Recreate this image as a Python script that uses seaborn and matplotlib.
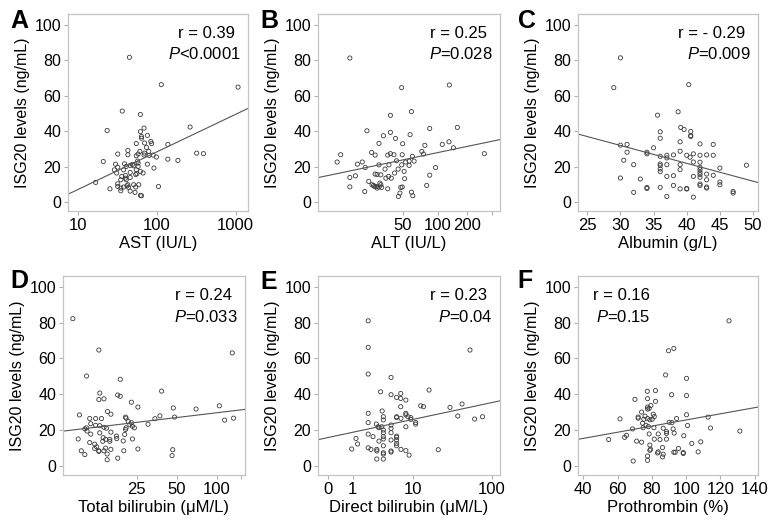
import numpy as np
import pandas as pd
import seaborn as sns
import matplotlib
matplotlib.use('Agg')
import matplotlib.pyplot as plt

# ---- data (ISG20 ng/mL vs liver markers) ----
ast = [45, 114, 1070, 36.5, 62, 23.5, 69, 62, 76, 64, 64, 70, 84, 86, 55, 264, 138, 43, 74, 61,
       32, 43, 58, 70, 79, 55, 69, 80, 90, 99, 320, 390, 138, 185, 21, 30, 39, 41, 51, 58,
       58, 76, 46, 49, 57, 92, 32, 29, 38, 55, 62, 46, 31, 67, 36, 40, 54, 56, 40, 35,
       41, 46, 16.8, 32, 43, 51, 59, 32, 38, 44, 42, 54, 105, 25.5, 35, 35, 46, 53, 62, 64]
isg_a = [81.6, 66.2, 64.8, 51.3, 49.4, 40.4, 41.7, 39.7, 37.6, 37, 36, 33.3, 34.2, 33, 33, 42.3, 32.5, 29.1, 30.8, 28.6,
         27.1, 26.7, 27.1, 27.6, 28.6, 26.1, 26.5, 26.3, 26.5, 25.4, 27.6, 27.3, 24.2, 23.5, 22.9, 21.4, 21.6, 20.1, 20.5, 22,
         20.1, 21.4, 20.7, 21.2, 23.1, 19.2, 19.7, 18.2, 18.2, 18.2, 17.3, 16.7, 16.4, 16.4, 14.5, 15, 15.6, 16, 13.5, 12.6,
         12.6, 13.9, 11.1, 10.3, 9.8, 9.8, 9.8, 8.8, 8.5, 8.3, 9.2, 8.5, 8.8, 7.5, 7.9, 6.4, 6.2, 5.5, 3.8, 3.6]

alt = [21, 48.8, 58.5, 129, 40, 27.2, 40, 35.5, 43.7, 57, 84, 156, 128, 110, 49.7, 33, 76, 142, 29.3, 31,
       40, 42.5, 38.2, 49.3, 71.5, 74, 59.5, 18.4, 318, 17.5, 25.3, 23.5, 26.5, 33, 39, 48.8, 56, 61.5, 44.5, 52.5,
       95, 56, 36.5, 31, 32, 34, 38.8, 37, 45.8, 51, 43, 84, 21, 22.8, 40.6, 51.5, 28, 33.5, 34, 29.5,
       30.7, 33, 21, 32, 34.5, 38.2, 26.3, 48, 49.3, 79, 47.3, 46, 58.5, 60, 30.2, 31.6]
isg_b = [81.2, 64.5, 51, 66, 48.9, 40.2, 39.3, 37.4, 35.9, 38, 41.5, 42.1, 34, 32.5, 32.9, 33.1, 32, 30.6, 28, 26.5,
         27.3, 26.7, 26.5, 26.7, 28.6, 27.1, 25.8, 26.7, 27.3, 22.6, 22.6, 21.4, 19.5, 21, 21, 21, 23.1, 23.1, 23.3, 22.6,
         19.5, 20.7, 18.6, 15.8, 15.6, 15.4, 14.5, 13.5, 18.6, 17.3, 16.4, 15.2, 13.9, 14.8, 13.5, 13.2, 11.7, 10.7, 9.8, 9.8,
         8.8, 8.5, 8.6, 7.9, 8.3, 7.5, 6, 8.3, 8.5, 9.4, 5.1, 3.2, 5.6, 3.6, 9.4, 8.8]

albumin = [30, 29, 40.3, 35.6, 38.7, 36, 36, 39.1, 39.6, 40.6, 40.6, 40.6, 30, 31, 31, 30.5, 30, 32, 32, 33,
           34, 34, 35, 34, 34, 36, 36, 36, 36, 36, 36, 37, 37, 37, 37, 37, 38, 38, 38, 39,
           39, 39, 39, 39, 40, 40, 40, 40.5, 41, 41, 41, 41, 42, 42, 42, 42, 42, 42, 42, 42,
           42, 42, 43, 43, 43, 43, 43, 44, 44, 44, 45, 45, 45, 47, 47, 49]
isg_c = [81.3, 64.5, 66.2, 49, 50.9, 39.6, 36, 42.1, 40.9, 39.8, 37.5, 37, 32.1, 32.5, 28.1, 23.6, 13.6, 21.1, 5.5, 13,
         28.1, 27.2, 30.6, 8.3, 7.7, 25.8, 21.5, 20.6, 18.7, 17.2, 8.3, 3.2, 24.9, 26.4, 21.1, 14.5, 26.6, 14.9, 9.4, 28.7,
         34, 21.1, 18.3, 7.5, 26.4, 7.4, 7.7, 25.3, 22.6, 27.2, 14.5, 2.8, 32.8, 26.4, 22.5, 19.6, 18.3, 16.8, 15.5, 14,
         10.2, 9.4, 26.6, 15.8, 12.6, 8.5, 7.9, 32.5, 26.4, 15.1, 19.2, 11.3, 9.8, 6, 5.1, 20.8]

tbil = [8.3, 13, 10.5, 13.2, 13, 14.2, 18.8, 18, 18.8, 22.8, 25.5, 38.4, 47, 69.6, 104, 130, 114, 133, 48, 37.3,
        34.2, 30.4, 9.3, 11.1, 12.3, 13.6, 11.3, 12.3, 13.2, 14.2, 14.8, 15.1, 16, 10.5, 10.6, 10.2, 11.3, 9.1, 11.1, 12.1,
        12.5, 12.1, 13, 13, 14.2, 14.6, 13.9, 14.6, 15.7, 15.7, 16, 14, 15, 16, 15, 9.6, 10.2, 17.7, 19.8, 20.3,
        20.6, 20.8, 20.8, 20.6, 21.6, 22.8, 23.2, 24, 22.2, 17.6, 18, 20, 25.5, 23.2, 46.5, 46, 13.2]
isg_d = [82.2, 64.7, 50.2, 40.7, 37.1, 37.5, 48.4, 39.6, 38.9, 35.6, 32.9, 41.8, 32.4, 31.8, 33.6, 63.1, 25.6, 26.7, 27.3, 28,
         26.4, 23.3, 28.5, 26.5, 26.5, 26.5, 23.6, 22.7, 22.5, 21.6, 21.1, 30.4, 28.9, 21.3, 19.5, 20.7, 17.8, 15.1, 13.1, 12.2,
         10.7, 9.8, 8.5, 8.2, 8.5, 10, 13.8, 14.9, 14.9, 13.8, 18.9, 15.8, 6.7, 9.3, 3.5, 8.5, 6.4, 15.3, 14, 17.6,
         20.4, 21.3, 26.7, 27.3, 24.9, 24.2, 22.2, 21.3, 23.1, 16.7, 4.4, 8.5, 9.5, 15.1, 9.1, 5.8, 18.5]

dbil = [2.1, 2.1, 2.1, 2.1, 2.1, 2.1, 2.1, 0.95, 1.2, 1.3, 2.35, 2.95, 2.95, 2.95, 2.9, 3.1, 3.2, 3.4, 2.55, 3.2,
        3.55, 3.75, 3.75, 3.75, 3.75, 3.75, 3.75, 3.75, 3.75, 3.6, 3.75, 3.75, 4.9, 4.9, 4.9, 4.9, 4.9, 4.9, 4.9, 4.9,
        5.9, 5.9, 5.9, 5.9, 5.9, 5.9, 5.9, 5.9, 6.75, 6.75, 6.75, 6.8, 6.8, 7.95, 7.95, 7.95, 7.95, 7.95, 8.5, 8.8,
        9.3, 9.3, 10.8, 10.8, 12.6, 13.7, 16.2, 21.3, 30, 37.6, 42.5, 53.4, 61, 76.5]
isg_e = [81, 66.2, 51.3, 29.4, 24.2, 17.8, 10.2, 9.5, 15.4, 12.3, 9.3, 9.3, 8.4, 3.9, 23.4, 21.9, 21.4, 41.4, 16.4, 13.9,
         21.9, 20.1, 18.6, 16.4, 15.1, 11.3, 7.4, 6.7, 3.9, 30.7, 27.5, 25.7, 49.4, 39.8, 22.9, 21, 18.6, 14.5, 8.4, 7.8,
         38.3, 27.5, 27, 16.7, 16, 14.5, 12.6, 11.3, 40.5, 37.7, 33.1, 26.6, 9.3, 36.8, 29.4, 28.6, 21.9, 8.6, 27.5, 6.1,
         27, 26, 24.3, 23.4, 33.6, 33.1, 42.4, 9.1, 32.7, 27.9, 34.6, 64.7, 26.2, 27.5]

pt = [125, 92.8, 89.7, 88, 100.2, 77.3, 82.1, 91.5, 100.2, 70.1, 77.5, 82.1, 79.4, 77.5, 78.4, 77.5, 74, 80.8, 76, 72,
      72, 61.4, 77.5, 78.8, 80.2, 75.3, 81.4, 90.1, 91.7, 94.4, 100.2, 112.8, 100.8, 114.2, 131.3, 74.6, 76.5, 74.9, 68.7, 77.9,
      81.2, 86.6, 92.4, 93, 88.5, 88.5, 83.7, 78.4, 65.2, 64.1, 54.8, 71.1, 74, 81.4, 84.7, 88.5, 98.6, 103.3, 108.5, 78.8,
      79.2, 78.8, 83.7, 83.3, 86.2, 86.6, 86.2, 92.8, 93.6, 95.5, 98.3, 98.3, 107, 77.5, 77.5, 69.1]
isg_f = [81, 65.6, 64.3, 50.8, 48.9, 41.7, 42.1, 39.8, 39.3, 37.2, 37.6, 36.1, 33.8, 32.9, 32.1, 31.8, 30.1, 28.9, 27.8, 27.3,
         26.7, 26.3, 26.5, 25.8, 26.1, 26.1, 27.6, 24.4, 24.2, 26.5, 28.6, 27.3, 22.6, 21.2, 19.5, 23.9, 22.7, 21.4, 20.7, 22,
         21.4, 21.1, 20.7, 18.4, 18.2, 19.2, 17.9, 17.9, 17.1, 16, 14.8, 13.9, 13.3, 15, 14.8, 15, 16.9, 12.6, 13.5, 11.7,
         9.4, 8.8, 7.9, 7.3, 10.3, 6.6, 5.1, 7.7, 7.7, 9.8, 7.5, 7, 7.9, 5.6, 3.2, 2.8]

panels = ['A', 'B', 'C', 'D', 'E', 'F']
xlabels = ['AST (IU/L)', 'ALT (IU/L)', 'Albumin (g/L)',
           'Total bilirubin (\u03bcM/L)', 'Direct bilirubin (\u03bcM/L)', 'Prothrombin (%)']
r_text = ['r = 0.39', 'r = 0.25', 'r = - 0.29', 'r = 0.24', 'r = 0.23', 'r = 0.16']
p_text = ['<0.0001', '=0.028', '=0.009', '=0.033', '=0.04', '=0.15']

# ---- style ----
sns.set_style('white')
plt.rcParams['font.family'] = ['Liberation Sans', 'DejaVu Sans']
plt.rcParams['mathtext.fontset'] = 'custom'
plt.rcParams['mathtext.it'] = 'Liberation Sans:italic'
plt.rcParams['mathtext.rm'] = 'Liberation Sans'
plt.rcParams['text.color'] = 'black'
plt.rcParams['axes.labelcolor'] = 'black'

W, H = 771, 525
fig = plt.figure(figsize=(W / 100, H / 100), dpi=100)


def box(l, r, t, b):
    return [l / W, 1 - b / H, (r - l) / W, (b - t) / H]


pos = [box(68, 248, 14, 211), box(318, 500, 14, 211), box(578, 758, 14, 211),
       box(63, 245, 276, 475), box(318, 500, 276, 475), box(578, 758, 276, 475)]

xs = [ast, alt, albumin, tbil, dbil, pt]
ys = [isg_a, isg_b, isg_c, isg_d, isg_e, isg_f]


def pw_fwd(x):
    return -np.power(np.maximum(x, 1e-6), -0.25)


def pw_inv(t):
    return np.power(np.maximum(-t, 1e-6), -4.0)


def lp_fwd(x):
    return np.log10(np.maximum(x, -0.999) + 1)


def lp_inv(t):
    return 10 ** t - 1


scales = [('log', np.log10), (('function', (pw_fwd, pw_inv)), pw_fwd), ('linear', lambda v: v),
          ('log', np.log10), (('function', (lp_fwd, lp_inv)), lp_fwd), ('linear', lambda v: v)]
xlims = [(7.5, 1430), (13.5, 515), (23.6, 50.75), (7, 162), (-0.245, 125.7), (36.9, 141.9)]
xticks = [[10, 100, 1000], [50, 100, 200, 400], list(range(25, 51, 5)),
          [25, 50, 100, 150], [0, 1, 10, 100], list(range(40, 141, 20))]
xticklabels = [['10', '100', '1000'], ['50', '100', '200', ''], [str(v) for v in range(25, 51, 5)],
               ['25', '50', '100', ''], ['0', '1', '10', '100'], [str(v) for v in range(40, 141, 20)]]
letter_xy = [(10, 21), (260, 21), (518, 21), (10, 281), (260, 282), (517, 281)]

for i in range(6):
    ax = fig.add_axes(pos[i])
    df = pd.DataFrame({'x': xs[i], 'y': ys[i]})
    sc, tf = scales[i]
    if isinstance(sc, tuple):
        ax.set_xscale(sc[0], functions=sc[1])
    else:
        ax.set_xscale(sc)
    sns.scatterplot(data=df, x='x', y='y', ax=ax, marker='o', s=9,
                    facecolor='none', edgecolor='#3a3a3a', linewidth=0.6)
    ax.set_xlim(xlims[i])
    ax.set_ylim(-5, 106)

    # least squares line in the axis' own (transformed) space
    slope, icpt = np.polyfit(tf(np.array(xs[i], float)), np.array(ys[i], float), 1)
    grid = lp_inv(np.linspace(lp_fwd(xlims[i][0]), lp_fwd(xlims[i][1]), 200)) if i == 4 else \
        np.geomspace(*xlims[i], 200) if sc == 'log' else \
        pw_inv(np.linspace(pw_fwd(xlims[i][0]), pw_fwd(xlims[i][1]), 200)) if i == 1 else \
        np.linspace(*xlims[i], 200)
    ax.plot(grid, slope * tf(grid) + icpt, color='#555555', lw=0.8)

    ax.set_xticks(xticks[i])
    ax.set_xticklabels(xticklabels[i])
    ax.xaxis.set_minor_locator(matplotlib.ticker.NullLocator())
    ax.set_yticks([0, 20, 40, 60, 80, 100])
    ax.tick_params(axis='x', labelsize=12, length=3, color='#b0b0b0', labelcolor='black', pad=2)
    ax.tick_params(axis='y', labelsize=11.5, length=3, color='#b0b0b0', labelcolor='black', pad=2)
    ax.tick_params(bottom=True, left=True)
    for s in ax.spines.values():
        s.set_color('#c4c4c4')
        s.set_linewidth(0.9)
    ax.set_xlabel(xlabels[i], fontsize=12, labelpad=2)
    ax.set_ylabel('ISG20 levels (ng/mL)', fontsize=11.5, labelpad=3)

    if i == 5:
        ax.text(0.085, 0.9, r_text[i], transform=ax.transAxes, ha='left', va='center', fontsize=12)
        ax.text(0.10, 0.795, '$\\it{P}$' + p_text[i], transform=ax.transAxes, ha='left', va='center', fontsize=12)
    else:
        ax.text(0.93, 0.9, r_text[i], transform=ax.transAxes, ha='right', va='center', fontsize=12)
        ax.text(0.96, 0.795, '$\\it{P}$' + p_text[i], transform=ax.transAxes, ha='right', va='center', fontsize=12)

    lx, ly = letter_xy[i]
    fig.text(lx / W, 1 - ly / H, panels[i], fontsize=18, fontweight='bold', ha='left', va='center')

fig.savefig('out.png', dpi=100)
